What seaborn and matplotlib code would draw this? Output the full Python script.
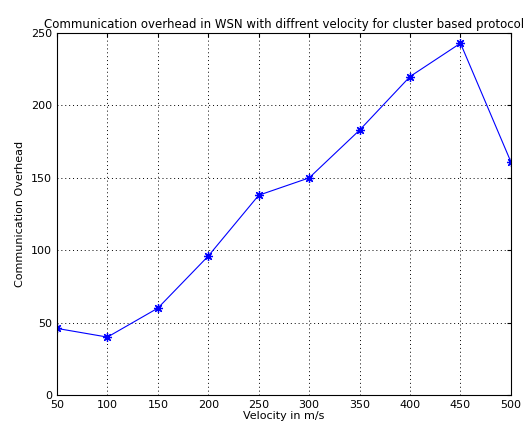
import matplotlib
matplotlib.use("Agg")
import matplotlib.pyplot as plt
import seaborn as sns
import pandas as pd

velocity = [50, 100, 150, 200, 250, 300, 350, 400, 450, 500]
overhead = [46, 40, 60, 96, 138, 150, 183, 220, 243, 161]
xticks = [50, 100, 150, 200, 250, 300, 350, 400, 450, 500]
yticks = [0, 50, 100, 150, 200, 250]

sns.set_style("white")
plt.rcParams['font.family'] = ['DejaVu Sans']
plt.rcParams['text.color'] = 'black'
plt.rcParams['axes.labelcolor'] = 'black'

df = pd.DataFrame({"v": velocity, "o": overhead})
fig = plt.figure(figsize=(5.3, 4.3), dpi=100)
ax = fig.add_axes([0.1075, 0.0814, 0.8565, 0.8416])
sns.lineplot(data=df, x="v", y="o", ax=ax, color="blue", marker=(8, 2, 0),
             markersize=6.5, linewidth=0.8, markeredgecolor="blue",
             markeredgewidth=0.9)
ax.set_xlim(50, 500)
ax.set_ylim(0, 250)
ax.set_xticks(xticks)
ax.set_yticks(yticks)
ax.tick_params(direction="in", labelsize=8, length=3, colors="black",
               top=True, right=True)
ax.grid(True, linestyle=(0, (1, 3)), color="black", linewidth=0.7)
for s in ax.spines.values():
    s.set_color("black")
    s.set_linewidth(0.8)
ax.set_xlabel("Velocity in m/s", fontsize=8, labelpad=1)
ax.set_ylabel("Communication Overhead", fontsize=8)
ax.set_title("Communication overhead in WSN with diffrent velocity for cluster based protocol",
             fontsize=8.5, pad=4, color="black")
fig.savefig("out.png", dpi=100)
